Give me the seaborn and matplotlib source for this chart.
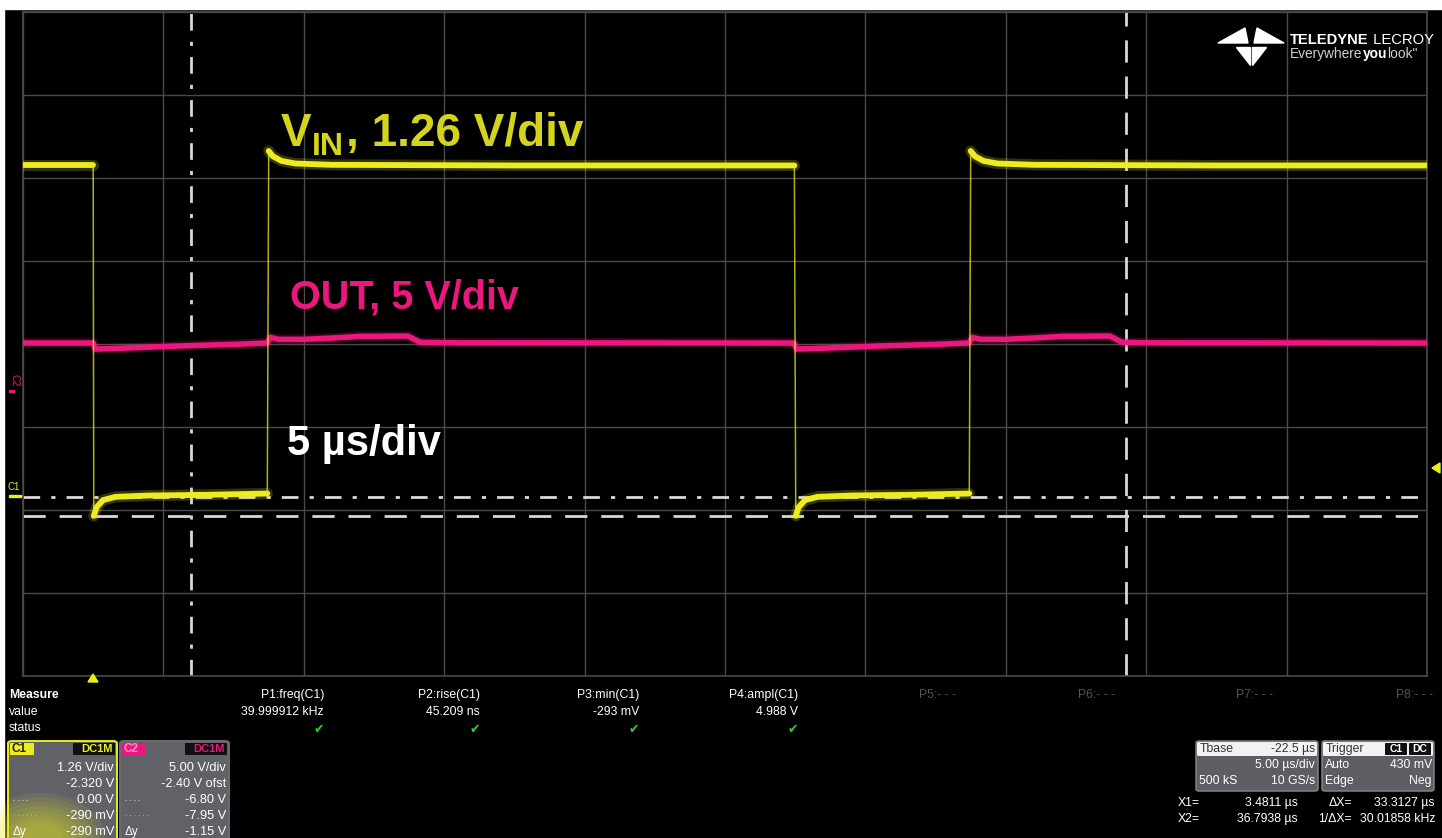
import numpy as np
import pandas as pd
import matplotlib
matplotlib.use("Agg")
import matplotlib.pyplot as plt
import seaborn as sns
from matplotlib.patches import Rectangle, FancyBboxPatch, Polygon, Ellipse

# ---------------------------------------------------------------- data
# time base: 5 us/div, 10 divisions, trigger at t = 0
T_LEFT, T_RIGHT = -2.5, 47.5
T_GRID = [-2.5, 2.5, 7.5, 12.5, 17.5, 22.5, 27.5, 32.5, 37.5, 42.5, 47.5]

# channel settings (V/div, offset V)
C1_SCALE, C1_OFFSET = 1.26, -2.32
C2_SCALE, C2_OFFSET = 5.00, -2.40

# C1 (VIN) waveform, one list per flat segment: (time us, volts)
vin_seg_high0_t = [-2.5, 0.0]
vin_seg_high0_v = [5.03, 5.03]
vin_seg_low1_t = [0.02, 0.12, 0.35, 0.8, 2.0, 4.0, 6.2]
vin_seg_low1_v = [-0.29, -0.16, -0.05, 0.0, 0.02, 0.03, 0.05]
vin_seg_high1_t = [6.25, 6.4, 6.7, 7.2, 8.5, 15.0, 24.97]
vin_seg_high1_v = [5.25, 5.17, 5.10, 5.06, 5.04, 5.03, 5.03]
vin_seg_low2_t = [25.02, 25.12, 25.35, 25.8, 27.0, 29.0, 31.2]
vin_seg_low2_v = [-0.29, -0.16, -0.05, 0.0, 0.02, 0.03, 0.05]
vin_seg_high2_t = [31.25, 31.4, 31.7, 32.2, 33.5, 40.0, 47.5]
vin_seg_high2_v = [5.25, 5.17, 5.10, 5.06, 5.04, 5.03, 5.03]

# C2 (OUT) waveform: (time us, volts)
out_t = [-2.5, 0.0, 0.08, 0.6, 1.5, 3.0, 5.0, 6.2, 6.3, 6.6, 7.5, 8.5, 9.5,
         11.2, 11.65, 13.0, 24.95, 25.05, 25.6, 26.5, 28.0, 30.0, 31.2, 31.3,
         31.6, 32.5, 33.5, 34.5, 36.2, 36.65, 38.0, 47.5]
out_v = [2.46, 2.46, 2.10, 2.12, 2.18, 2.28, 2.38, 2.46, 2.80, 2.68, 2.68,
         2.76, 2.86, 2.88, 2.50, 2.47, 2.46, 2.10, 2.12, 2.18, 2.28, 2.38,
         2.46, 2.80, 2.68, 2.68, 2.76, 2.86, 2.88, 2.50, 2.47, 2.46]

# cursors
X1_US, X2_US = 3.4811, 36.7938
Y1_V, Y2_V = 0.00, -0.290

# measurement table
meas_names = ["P1:freq(C1)", "P2:rise(C1)", "P3:min(C1)", "P4:ampl(C1)",
              "P5:- - -", "P6:- - -", "P7:- - -", "P8:- - -"]
meas_values = ["39.999912 kHz", "45.209 ns", "-293 mV", "4.988 V", "", "", "", ""]

c1_rows = ["1.26 V/div", "-2.320 V", "0.00 V", "-290 mV", "-290 mV"]
c2_rows = ["5.00 V/div", "-2.40 V ofst", "-6.80 V", "-7.95 V", "-1.15 V"]

# ---------------------------------------------------------------- style
W, H = 1442, 838
YEL = "#ecec1e"
YEL_TXT = "#d4d41e"
PINK = "#e8187c"
GRID = "#4a4a4a"
CUR = "#d8d8d8"
UI = "Liberation Sans"

sns.set_theme(style="dark")
plt.rcParams["font.family"] = [UI, "DejaVu Sans"]

fig = plt.figure(figsize=(W / 100, H / 100), dpi=100)
fig.patch.set_facecolor("black")


def fx(x):
    return x / W


def fy(y):
    return 1 - y / H


# white margin strips at top and left of the screen capture
fig.patches.append(Rectangle((0, fy(9)), 1, 9 / H, transform=fig.transFigure,
                             color="white", zorder=0))
fig.patches.append(Rectangle((0, 0), 4 / W, 1, transform=fig.transFigure,
                             color="white", zorder=0))

# ---------------------------------------------------------------- grid axes
ax = fig.add_axes([fx(23), fy(676), (1427 - 23) / W, (676 - 12) / H])
ax.set_facecolor("black")
ax.set_xlim(T_LEFT, T_RIGHT)
ax.set_ylim(-4, 4)
ax.set_xticks(T_GRID)
ax.set_yticks(range(-4, 5))
ax.tick_params(length=0, labelbottom=False, labelleft=False)
ax.grid(True, color=GRID, lw=1.0)
for s in ax.spines.values():
    s.set_color(GRID)
    s.set_linewidth(1.2)


def c1_div(v):
    return (np.asarray(v, float) + C1_OFFSET) / C1_SCALE


def c2_div(v):
    return (np.asarray(v, float) + C2_OFFSET) / C2_SCALE


# build VIN frames
segs_t = [vin_seg_high0_t, vin_seg_low1_t, vin_seg_high1_t, vin_seg_low2_t, vin_seg_high2_t]
segs_v = [vin_seg_high0_v, vin_seg_low1_v, vin_seg_high1_v, vin_seg_low2_v, vin_seg_high2_v]
vin = pd.concat([pd.DataFrame({"t": t, "div": c1_div(v), "seg": i})
                 for i, (t, v) in enumerate(zip(segs_t, segs_v))], ignore_index=True)
vin_full = vin.sort_values("t").reset_index(drop=True)
out = pd.DataFrame({"t": out_t, "div": c2_div(out_v)})

# cursors
ax.axvline(X1_US, color=CUR, lw=2.0, ls=(0, (6, 4, 1.5, 4)), zorder=2)
ax.axvline(X2_US, color=CUR, lw=2.0, ls=(0, (8, 5)), zorder=2)
ax.axhline(c1_div(Y1_V), color=CUR, lw=2.0, ls=(0, (6, 4, 1.5, 4)), zorder=2)
ax.axhline(c1_div(Y2_V), color=CUR, lw=2.0, ls=(0, (8, 5)), zorder=2)

# OUT trace
sns.lineplot(data=out, x="t", y="div", sort=False, estimator=None, color=PINK,
             lw=7, alpha=0.22, ax=ax, legend=False, zorder=3)
sns.lineplot(data=out, x="t", y="div", sort=False, estimator=None, color=PINK,
             lw=4.0, ax=ax, legend=False, zorder=4)

# VIN trace: thin edges, thick flats
sns.lineplot(data=vin_full, x="t", y="div", sort=False, estimator=None, color=YEL,
             lw=1.1, alpha=0.75, ax=ax, legend=False, zorder=5)
sns.lineplot(data=vin, x="t", y="div", units="seg", sort=False, estimator=None,
             color=YEL, lw=8, alpha=0.22, ax=ax, legend=False, zorder=5)
sns.lineplot(data=vin, x="t", y="div", units="seg", sort=False, estimator=None,
             color=YEL, lw=4.2, ax=ax, legend=False, zorder=6)
ax.set_xlabel("")
ax.set_ylabel("")

# annotations inside the grid
lab_kw = dict(fontweight="bold", va="baseline", ha="left",
              transform=fig.transFigure, family=UI)
t_v = fig.text(fx(281), fy(146), "V", color=YEL_TXT, fontsize=33, **lab_kw)
fig.canvas.draw()
bb = t_v.get_window_extent()
t_in = fig.text(bb.x1 / W, fy(155), "IN", color=YEL_TXT, fontsize=23, **lab_kw)
fig.canvas.draw()
bb2 = t_in.get_window_extent()
fig.text(bb2.x1 / W + 2 / W, fy(146), ", 1.26 V/div", color=YEL_TXT, fontsize=33,
         **lab_kw)
fig.text(fx(290), fy(308), "OUT, 5 V/div", color=PINK, fontsize=28.5, **lab_kw)
fig.text(fx(287), fy(455), "5 \u00b5s/div", color="white", fontsize=30, **lab_kw)

# channel ground markers on the left edge
fig.text(fx(14), fy(380), "C2", color=PINK, fontsize=7, rotation=-90,
         ha="center", va="center")
fig.text(fx(14), fy(487), "C1", color=YEL, fontsize=7, ha="center", va="center")
fig.patches.append(Rectangle((fx(9), fy(497)), 12 / W, 2 / H, transform=fig.transFigure,
                             color=YEL, zorder=5))
fig.patches.append(Rectangle((fx(9), fy(392)), 5 / W, 2 / H, transform=fig.transFigure,
                             color=PINK, zorder=5))

# trigger position / level markers
fig.patches.append(Polygon([(fx(88), fy(682)), (fx(98), fy(682)), (fx(93), fy(674))],
                           closed=True, transform=fig.transFigure, color=YEL, zorder=6))
fig.patches.append(Polygon([(fx(1432), fy(468)), (fx(1440), fy(463)), (fx(1440), fy(473))],
                           closed=True, transform=fig.transFigure, color=YEL, zorder=6))

# logo mark
for poly in ([(1218, 43), (1245, 28), (1248, 43)],
             [(1284, 43), (1257, 28), (1254, 43)],
             [(1236, 47), (1250, 47), (1250, 65)],
             [(1266, 47), (1252, 47), (1252, 65)]):
    fig.patches.append(Polygon([(fx(x), fy(y)) for x, y in poly], closed=True,
                               transform=fig.transFigure, color="white", zorder=6))


def text_run(x0, y, parts, target_w):
    """Draw consecutive text pieces and scale them so the run spans target_w px."""
    size = 10.0
    arts = []
    x = x0
    for txt, kw in parts:
        a = fig.text(fx(x), fy(y), txt, fontsize=size, ha="left", va="baseline", **kw)
        fig.canvas.draw()
        x = a.get_window_extent().x1
        arts.append(a)
    width = x - x0
    scale = target_w / width
    x = x0
    for a in arts:
        a.set_fontsize(size * scale)
        a.set_x(fx(x))
        fig.canvas.draw()
        x = a.get_window_extent().x1


text_run(1290, 44, [("TELEDYNE", dict(color="white", fontweight="bold")),
                    (" LECROY", dict(color="white"))], 143)
text_run(1290, 58, [("Everywhere", dict(color="#cfcfcf")),
                    ("you", dict(color="white", fontweight="bold")),
                    ("look\u02ba", dict(color="#cfcfcf"))], 128)

# ---------------------------------------------------------------- measure panel
small = dict(fontsize=8.8, va="center", color="white")
fig.text(fx(9), fy(695), "Measure", fontweight="bold", ha="left", **small)
fig.text(fx(9), fy(712), "value", ha="left", **small)
fig.text(fx(9), fy(728), "status", ha="left", **small)
meas_x = [324, 480, 639, 798, 956, 1115, 1273, 1433]
for i, (nm, val) in enumerate(zip(meas_names, meas_values)):
    col = "white" if val else "#555555"
    fig.text(fx(meas_x[i]), fy(695), nm, ha="right", fontsize=8.8, va="center", color=col)
    if val:
        fig.text(fx(meas_x[i]), fy(712), val, ha="right", **small)
        fig.text(fx(meas_x[i] - 5), fy(729), "\u2714", ha="center", va="center",
                 fontsize=9, color="#33cc33", family="DejaVu Sans")


def box(x0, y0, x1, y1, fc, ec=None, lw=0, r=3, z=3, alpha=1.0):
    p = FancyBboxPatch((fx(x0), fy(y1)), (x1 - x0) / W, (y1 - y0) / H,
                       boxstyle=f"round,pad=0,rounding_size={r / W}",
                       transform=fig.transFigure, fc=fc, ec=ec or fc, lw=lw,
                       zorder=z, alpha=alpha)
    fig.patches.append(p)
    return p


# channel descriptor boxes
row_y = [768, 784, 800, 816, 832]
for (x0, x1, col, name, rows, tag_fc, tag_tc) in (
        (8, 117, YEL, "C1", c1_rows, YEL, "#222222"),
        (120, 229, PINK, "C2", c2_rows, PINK, "#ff8cc6")):
    box(x0, 741, x1, 845, "#606268", ec=col if name == "C1" else "#6c6c70", lw=1.4, r=4)
    box(x0 + 2, 743, x0 + 26, 755, tag_fc, r=1, z=4)
    fig.text(fx(x0 + 4), fy(749.5), name, color=tag_tc, fontsize=8.5,
             fontweight="bold", ha="left", va="center", zorder=6)
    box(x1 - 44, 743, x1 - 2, 755, "#111111", r=1, z=4)
    fig.text(fx(x1 - 4), fy(749.5), "DC1M", color=col, fontsize=8, fontweight="bold",
             ha="right", va="center", zorder=6)
    for ry, txt in zip(row_y, rows):
        fig.text(fx(x1 - 3), fy(ry), txt, color="white", fontsize=9.2, ha="right",
                 va="center", zorder=6)
    fig.text(fx(x0 + 5), fy(800), "- - - -", color="#dddddd", fontsize=5, ha="left",
             va="center", zorder=6)
    fig.text(fx(x0 + 5), fy(816), "· · · · · ·", color="#dddddd", fontsize=5, ha="left",
             va="center", zorder=6)
    fig.text(fx(x0 + 5), fy(832), "\u0394y", color="white", fontsize=8.5, ha="left",
             va="center", zorder=6)

# soft yellow glow at the bottom of the C1 box
for k in range(8):
    fig.patches.append(Ellipse((fx(40), fy(838)), (130 - 12 * k) / W, (90 - 9 * k) / H,
                               transform=fig.transFigure, color=YEL, alpha=0.09,
                               zorder=4, lw=0))

# timebase box
box(1196, 741, 1318, 791, "#5c5e64", ec="#8a8a8a", lw=1.0, r=3)
box(1197, 742, 1317, 756, "#f2f2f2", r=2, z=4)
fig.text(fx(1200), fy(749), "Tbase", color="#333333", fontsize=8.8, ha="left",
         va="center", zorder=6)
fig.text(fx(1315), fy(749), "-22.5 \u00b5s", color="#333333", fontsize=8.8,
         ha="right", va="center", zorder=6)
fig.text(fx(1315), fy(765), "5.00 \u00b5s/div", color="white", fontsize=8.8,
         ha="right", va="center", zorder=6)
fig.text(fx(1199), fy(781), "500 kS", color="white", fontsize=8.8,
         ha="left", va="center", zorder=6)
fig.text(fx(1315), fy(781), "10 GS/s", color="white", fontsize=8.8,
         ha="right", va="center", zorder=6)

# trigger box
box(1322, 741, 1434, 791, "#5c5e64", ec="#8a8a8a", lw=1.0, r=3)
box(1323, 742, 1433, 756, "#f2f2f2", r=2, z=4)
fig.text(fx(1326), fy(749), "Trigger", color="#333333", fontsize=8.8, ha="left",
         va="center", zorder=6)
box(1385, 743, 1407, 755, "#111111", r=1, z=5)
box(1409, 743, 1431, 755, "#111111", r=1, z=5)
fig.text(fx(1396), fy(749), "C1", color="white", fontsize=7.5, fontweight="bold",
         ha="center", va="center", zorder=6)
fig.text(fx(1420), fy(749), "DC", color="white", fontsize=7.5, fontweight="bold",
         ha="center", va="center", zorder=6)
fig.text(fx(1325), fy(765), "Auto", color="white", fontsize=8.8, ha="left",
         va="center", zorder=6)
fig.text(fx(1432), fy(765), "430 mV", color="white", fontsize=8.8, ha="right",
         va="center", zorder=6)
fig.text(fx(1325), fy(781), "Edge", color="white", fontsize=8.8, ha="left",
         va="center", zorder=6)
fig.text(fx(1432), fy(781), "Neg", color="white", fontsize=8.8, ha="right",
         va="center", zorder=6)

# cursor readout
for ry, a, b, c, d in ((803, "X1=", f"{X1_US:.4f} \u00b5s", "\u0394X=",
                        f"{X2_US - X1_US:.4f} \u00b5s"),
                       (819, "X2=", f"{X2_US:.4f} \u00b5s", "1/\u0394X=",
                        f"{1e3 / (X2_US - X1_US):.5f} kHz")):
    fig.text(fx(1178), fy(ry), a, color="white", fontsize=8.8, ha="left", va="center")
    fig.text(fx(1298), fy(ry), b, color="white", fontsize=8.8, ha="right", va="center")
    fig.text(fx(1352), fy(ry), c, color="white", fontsize=8.8, ha="right", va="center")
    fig.text(fx(1435), fy(ry), d, color="white", fontsize=8.8, ha="right", va="center")

fig.savefig("out.png", dpi=100, facecolor=fig.get_facecolor())
